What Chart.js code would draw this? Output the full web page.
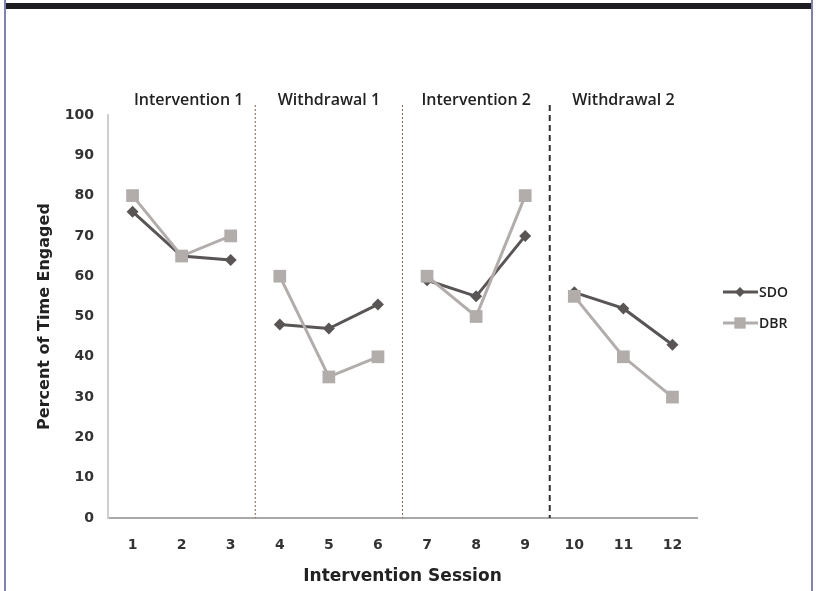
<!DOCTYPE html>
<html>
<head>
<meta charset="utf-8">
<script src="https://cdn.jsdelivr.net/npm/chart.js@4/dist/chart.umd.min.js"></script>
<style>
  body { margin: 0; background: #fff; }
  #wrap { position: relative; width: 817px; height: 591px; overflow: hidden; }
  #topbar { position: absolute; left: 5px; top: 3px; width: 808px; height: 6px; background: #1e1e22; }
  #lb { position: absolute; left: 4px; top: 0; width: 2px; height: 591px; background: #7f80bd; }
  #rb { position: absolute; left: 811px; top: 0; width: 2px; height: 591px; background: #7f80bd; }
</style>
</head>
<body>
<div id="wrap">
  <canvas id="chartId" width="817" height="591"></canvas>
  <div id="topbar"></div>
  <div id="lb"></div>
  <div id="rb"></div>
</div>
<script>
const sessions = ["1", "2", "3", "4", "5", "6", "7", "8", "9", "10", "11", "12"];
const sdoData = [76, 65, 64, 48, 47, 53, 59, 55, 70, 56, 52, 43];
const dbrData = [80, 65, 70, 60, 35, 40, 60, 50, 80, 55, 40, 30];
const phaseNames = ["Intervention 1", "Withdrawal 1", "Intervention 2", "Withdrawal 2"];
const phaseStarts = [0, 3, 6, 9]; // index of first session in each phase

const SDO_COLOR = "#5a5555";
const DBR_COLOR = "#b2adab";
const FONT = "'Open Sans', sans-serif";
const WIDE = "'DejaVu Sans', sans-serif"; // closer to the wide gothic look of the axis text

// don't join the lines across phase changes
const gapColor = (color) => (c) =>
  phaseStarts.includes(c.p1DataIndex) ? "transparent" : color;

const phasePlugin = {
  id: "phases",
  afterDatasetsDraw(chart) {
    const { ctx, chartArea, scales } = chart;
    const x = scales.x;
    ctx.save();
    // divider lines
    for (let i = 1; i < phaseStarts.length; i++) {
      const p = (x.getPixelForValue(phaseStarts[i] - 1) + x.getPixelForValue(phaseStarts[i])) / 2;
      ctx.beginPath();
      if (i < 3) {
        ctx.strokeStyle = "#9a5a4a";
        ctx.lineWidth = 1;
        ctx.setLineDash([2, 2]);
      } else {
        ctx.strokeStyle = "#333";
        ctx.lineWidth = 2;
        ctx.setLineDash([6, 4]);
      }
      ctx.moveTo(p, chartArea.top - 10);
      ctx.lineTo(p, chartArea.bottom);
      ctx.stroke();
    }
    ctx.setLineDash([]);
    // phase titles
    ctx.fillStyle = "#222";
    ctx.font = "600 16px " + FONT;
    ctx.textAlign = "center";
    ctx.textBaseline = "middle";
    phaseNames.forEach((name, i) => {
      const mid = x.getPixelForValue(phaseStarts[i] + 1);
      ctx.fillText(name, mid + (i === 0 ? 7 : 0), 100);
    });
    // legend
    const items = [
      { label: "SDO", color: SDO_COLOR, style: "rectRot", r: 5, y: 292 },
      { label: "DBR", color: DBR_COLOR, style: "rect", r: 8, y: 323 },
    ];
    items.forEach((it) => {
      ctx.strokeStyle = it.color;
      ctx.lineWidth = 3;
      ctx.beginPath();
      ctx.moveTo(723, it.y);
      ctx.lineTo(758, it.y);
      ctx.stroke();
      ctx.fillStyle = it.color;
      Chart.helpers.drawPoint(ctx, { pointStyle: it.style, radius: it.r, borderWidth: 0 }, 740, it.y);
      ctx.fillStyle = "#222";
      ctx.font = "600 14px " + FONT;
      ctx.textAlign = "left";
      ctx.fillText(it.label, 759, it.y + 1);
    });
    ctx.restore();
  },
};

new Chart(document.getElementById("chartId"), {
  type: "line",
  data: {
    labels: sessions,
    datasets: [
      {
        label: "SDO",
        data: sdoData,
        borderColor: SDO_COLOR,
        backgroundColor: SDO_COLOR,
        borderWidth: 3,
        pointStyle: "rectRot",
        pointRadius: 6,
        pointBorderWidth: 0,
        segment: { borderColor: gapColor(SDO_COLOR) },
        order: 2,
      },
      {
        label: "DBR",
        data: dbrData,
        borderColor: DBR_COLOR,
        backgroundColor: DBR_COLOR,
        borderWidth: 3,
        pointStyle: "rect",
        pointRadius: 9,
        pointBorderWidth: 0,
        segment: { borderColor: gapColor(DBR_COLOR) },
        order: 1,
      },
    ],
  },
  options: {
    responsive: false,
    animation: false,
    layout: { padding: { left: 31, right: 120, top: 115, bottom: 0 } },
    plugins: { legend: { display: false }, tooltip: { enabled: false } },
    scales: {
      x: {
        offset: true,
        grid: { display: false, drawTicks: false },
        border: { color: "#a9a9a9", width: 2 },
        ticks: { color: "#333", font: { family: WIDE, size: 14, weight: "bold" }, padding: 19 },
        title: { display: true, text: "Intervention Session", color: "#222", font: { family: WIDE, size: 17, weight: "bold" }, padding: 4 },
        afterFit: (s) => { s.height = 73; },
      },
      y: {
        min: 0,
        max: 100,
        ticks: { stepSize: 10, color: "#333", font: { family: WIDE, size: 14, weight: "bold" }, padding: 14 },
        grid: { display: false, drawTicks: false },
        border: { color: "#cfcfcf", width: 2 },
        title: { display: true, text: "Percent of Time Engaged", color: "#222", font: { family: WIDE, size: 16, weight: "bold" }, padding: 4 },
        afterFit: (s) => { s.width = 77; },
      },
    },
  },
  plugins: [phasePlugin],
});
</script>
</body>
</html>
